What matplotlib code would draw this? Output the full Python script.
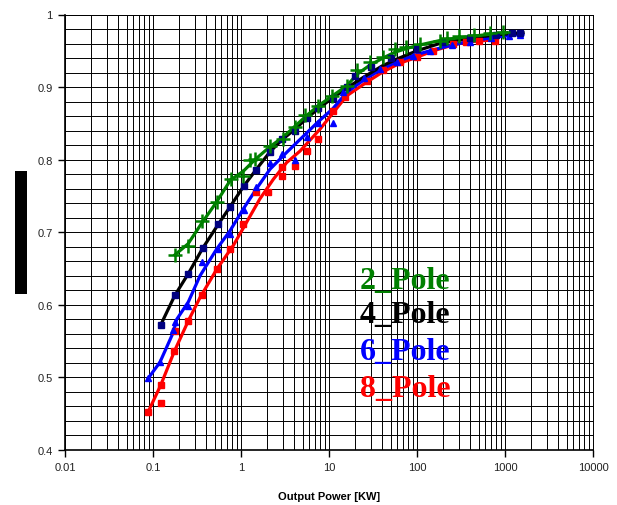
import matplotlib
matplotlib.use("Agg")
import matplotlib.pyplot as plt
from matplotlib.patches import Rectangle
from matplotlib.ticker import MultipleLocator, LogLocator, FixedLocator

# Trend lines
p2_x = [0.178, 0.25, 0.36, 0.53, 0.76, 1.06, 1.44, 2.14, 3.0, 4.1, 5.6, 7.5, 10.7, 16, 21, 29, 41, 56, 75, 107, 180, 300, 500, 700, 1050]
p2_y = [0.669, 0.684, 0.713, 0.742, 0.772, 0.784, 0.800, 0.818, 0.831, 0.846, 0.861, 0.874, 0.887, 0.902, 0.918, 0.930, 0.940, 0.948, 0.953, 0.958, 0.964, 0.968, 0.971, 0.973, 0.975]

p4_x = [0.122, 0.177, 0.252, 0.367, 0.552, 0.75, 1.08, 1.48, 2.14, 2.9, 4.1, 5.6, 7.5, 10.7, 16, 25, 40, 60, 100, 180, 300, 500, 800, 1600]
p4_y = [0.572, 0.613, 0.643, 0.678, 0.711, 0.735, 0.764, 0.786, 0.811, 0.827, 0.842, 0.857, 0.870, 0.884, 0.899, 0.914, 0.929, 0.939, 0.950, 0.960, 0.965, 0.969, 0.972, 0.975]

p6_x = [0.0885, 0.12, 0.17, 0.186, 0.252, 0.342, 0.53, 0.75, 1.06, 1.5, 2.14, 3.3, 4.7, 7.5, 11, 16, 25, 40, 65, 100, 150, 250, 400, 700, 1100, 1600]
p6_y = [0.499, 0.521, 0.562, 0.580, 0.604, 0.640, 0.677, 0.702, 0.732, 0.760, 0.787, 0.810, 0.828, 0.852, 0.870, 0.893, 0.910, 0.925, 0.937, 0.945, 0.951, 0.958, 0.963, 0.968, 0.971, 0.973]

p8_x = [0.0885, 0.122, 0.175, 0.252, 0.342, 0.53, 0.82, 1.16, 1.64, 2.33, 3.3, 4.7, 7.9, 11.2, 15.9, 27, 41, 64, 99, 153, 258, 364, 560, 800]
p8_y = [0.453, 0.489, 0.536, 0.578, 0.610, 0.649, 0.682, 0.714, 0.746, 0.773, 0.796, 0.812, 0.842, 0.865, 0.888, 0.907, 0.921, 0.933, 0.941, 0.950, 0.958, 0.962, 0.964, 0.965]

# Measured points
m2_x = [0.178, 0.252, 0.357, 0.53, 0.76, 1.06, 1.26, 1.44, 2.14, 3.0, 4.1, 5.3, 7.55, 10.7, 15.9, 20.6, 29, 41, 56, 75, 107, 182, 219, 300, 450, 676, 960]
m2_y = [0.669, 0.681, 0.715, 0.741, 0.774, 0.778, 0.799, 0.801, 0.819, 0.829, 0.845, 0.862, 0.874, 0.888, 0.902, 0.923, 0.934, 0.941, 0.952, 0.955, 0.959, 0.964, 0.968, 0.970, 0.972, 0.975, 0.976]

m4_x = [0.122, 0.177, 0.252, 0.367, 0.552, 0.75, 1.08, 1.48, 2.14, 2.9, 4.1, 5.6, 7.5, 11, 16, 20, 30, 50, 100, 200, 400, 800, 1200, 1500]
m4_y = [0.572, 0.613, 0.643, 0.678, 0.711, 0.735, 0.764, 0.786, 0.811, 0.829, 0.840, 0.857, 0.871, 0.885, 0.900, 0.915, 0.928, 0.940, 0.952, 0.962, 0.968, 0.972, 0.974, 0.975]

m6_x = [0.0885, 0.12, 0.17, 0.178, 0.252, 0.357, 0.552, 0.75, 1.08, 1.5, 2.14, 2.9, 4.1, 5.57, 7.55, 11, 14.4, 25, 38, 60, 91, 140, 250, 400, 700, 1100, 1500]
m6_y = [0.499, 0.521, 0.565, 0.576, 0.599, 0.659, 0.677, 0.698, 0.730, 0.763, 0.796, 0.808, 0.800, 0.831, 0.851, 0.851, 0.893, 0.912, 0.925, 0.935, 0.943, 0.950, 0.958, 0.962, 0.968, 0.971, 0.972]

m8_x = [0.0885, 0.122, 0.122, 0.175, 0.178, 0.252, 0.357, 0.537, 0.75, 1.06, 1.5, 2.04, 2.9, 2.9, 4.1, 5.57, 7.55, 10.97, 15.2, 26.8, 41.4, 64, 99, 153, 258, 364, 500, 770]
m8_y = [0.453, 0.4645, 0.489, 0.536, 0.564, 0.578, 0.613, 0.650, 0.677, 0.711, 0.755, 0.756, 0.778, 0.790, 0.791, 0.812, 0.8285, 0.867, 0.886, 0.909, 0.923, 0.934, 0.941, 0.950, 0.959, 0.962, 0.963, 0.963]

labels = ["2_Pole", "4_Pole", "6_Pole", "8_Pole"]
x_ticks = [0.01, 0.1, 1, 10, 100, 1000, 10000]
x_tick_labels = ["0.01", "0.1", "1", "10", "100", "1000", "10000"]
y_ticks = [0.4, 0.5, 0.6, 0.7, 0.8, 0.9, 1.0]
y_tick_labels = ["0.4", "0.5", "0.6", "0.7", "0.8", "0.9", "1"]

green = "#008000"
navy = "#000080"

fig = plt.figure(figsize=(6.17, 5.06), dpi=100)
ax = fig.add_axes([65 / 617, 1 - 451 / 506, 528 / 617, 435.5 / 506])

# Lines
ax.plot(p8_x, p8_y, color="red", lw=2.3, zorder=3)
ax.plot(p6_x, p6_y, color="blue", lw=2.3, zorder=3)
ax.plot(p4_x, p4_y, color="black", lw=2.3, zorder=3)
ax.plot(p2_x, p2_y, color=green, lw=2.3, zorder=4)

# Markers
ax.plot(m8_x, m8_y, ls="none", marker="s", ms=4.5, color="red", zorder=5)
ax.plot(m6_x, m6_y, ls="none", marker="^", ms=5, color="blue", zorder=5)
ax.plot(m4_x, m4_y, ls="none", marker="s", ms=4, color=navy, zorder=5)
ax.plot(m2_x, m2_y, ls="none", marker="+", ms=10, mew=1.8, color=green, zorder=6)

ax.set_xscale("log")
ax.set_xlim(0.01, 10000)
ax.set_ylim(0.4, 1.0)
ax.xaxis.set_major_locator(FixedLocator(x_ticks))
ax.set_xticklabels(x_tick_labels)
ax.xaxis.set_minor_locator(LogLocator(base=10, subs=range(2, 10), numticks=20))
ax.xaxis.set_minor_formatter(plt.NullFormatter())
ax.set_yticks(y_ticks)
ax.set_yticklabels(y_tick_labels)
ax.yaxis.set_minor_locator(MultipleLocator(0.02))

ax.grid(True, which="both", color="black", lw=0.7)
ax.set_axisbelow(True)
ax.tick_params(which="major", direction="out", length=5, width=1, labelsize=8, pad=4,
               labelcolor="#222222")
ax.tick_params(which="minor", length=0)
for lab in ax.get_xticklabels() + ax.get_yticklabels():
    lab.set_fontfamily("Liberation Sans")
for side in ["left", "bottom"]:
    ax.spines[side].set_color("black")
    ax.spines[side].set_linewidth(1.2)
for side in ["top", "right"]:
    ax.spines[side].set_color("black")
    ax.spines[side].set_linewidth(0.7)

# x label
fig.text(329 / 617, 1 - 497 / 506, "Output Power [KW]", ha="center", va="center",
         fontsize=8, fontweight="bold", family="Liberation Sans")

# y label: solid black block with the text on it
fig.patches.append(Rectangle((15 / 617, 1 - 295 / 506), 12 / 617, 123 / 506,
                             transform=fig.transFigure, facecolor="black", edgecolor="none"))
fig.text(21 / 617, 1 - 233.5 / 506, "Efficiency", rotation=90, ha="center", va="center",
         fontsize=8, fontweight="bold", color="black", family="Liberation Sans")

# series labels
colors = [green, "black", "blue", "red"]
baselines = [289, 323, 360, 397]
for lab, col, yb in zip(labels, colors, baselines):
    fig.text(360 / 617, 1 - yb / 506, lab, color=col, fontsize=23, fontweight="bold",
             family="Liberation Serif", ha="left", va="baseline")

fig.savefig("out.png", dpi=100)
